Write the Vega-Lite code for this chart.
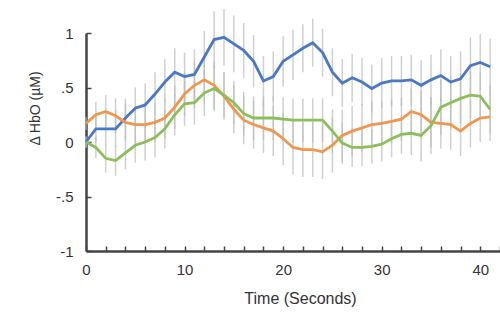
{
 "$schema": "https://vega.github.io/schema/vega-lite/v6.json",
 "width": 414, "height": 218,
 "autosize": {"type": "none"},
 "padding": {"left": 86, "top": 33, "right": 0, "bottom": 69},
 "background": "white",
 "config": {"view": {"stroke": null}, "font": "Liberation Sans"},
 "datasets": {
  "d": [
   {"t":0,"s":"A","v":0,"e":0.05},{"t":1,"s":"A","v":0.12,"e":0.12},{"t":2,"s":"A","v":0.12,"e":0.15},{"t":3,"s":"A","v":0.12,"e":0.17},{"t":4,"s":"A","v":0.22,"e":0.18},{"t":5,"s":"A","v":0.31,"e":0.19},{"t":6,"s":"A","v":0.34,"e":0.2},{"t":7,"s":"A","v":0.44,"e":0.2},{"t":8,"s":"A","v":0.55,"e":0.21},{"t":9,"s":"A","v":0.64,"e":0.22},{"t":10,"s":"A","v":0.6,"e":0.22},{"t":11,"s":"A","v":0.62,"e":0.23},{"t":12,"s":"A","v":0.78,"e":0.24},{"t":13,"s":"A","v":0.94,"e":0.26},{"t":14,"s":"A","v":0.96,"e":0.26},{"t":15,"s":"A","v":0.9,"e":0.26},{"t":16,"s":"A","v":0.84,"e":0.25},{"t":17,"s":"A","v":0.74,"e":0.24},{"t":18,"s":"A","v":0.56,"e":0.23},{"t":19,"s":"A","v":0.6,"e":0.23},{"t":20,"s":"A","v":0.74,"e":0.23},{"t":21,"s":"A","v":0.8,"e":0.23},{"t":22,"s":"A","v":0.86,"e":0.22},{"t":23,"s":"A","v":0.91,"e":0.22},{"t":24,"s":"A","v":0.82,"e":0.22},{"t":25,"s":"A","v":0.64,"e":0.22},{"t":26,"s":"A","v":0.54,"e":0.22},{"t":27,"s":"A","v":0.59,"e":0.22},{"t":28,"s":"A","v":0.55,"e":0.22},{"t":29,"s":"A","v":0.49,"e":0.22},{"t":30,"s":"A","v":0.54,"e":0.23},{"t":31,"s":"A","v":0.56,"e":0.23},{"t":32,"s":"A","v":0.56,"e":0.23},{"t":33,"s":"A","v":0.57,"e":0.23},{"t":34,"s":"A","v":0.52,"e":0.23},{"t":35,"s":"A","v":0.57,"e":0.23},{"t":36,"s":"A","v":0.61,"e":0.24},{"t":37,"s":"A","v":0.55,"e":0.24},{"t":38,"s":"A","v":0.58,"e":0.25},{"t":39,"s":"A","v":0.7,"e":0.26},{"t":40,"s":"A","v":0.73,"e":0.26},{"t":41,"s":"A","v":0.69,"e":0.26},
   {"t":0,"s":"B","v":0.17,"e":0.06},{"t":1,"s":"B","v":0.25,"e":0.12},{"t":2,"s":"B","v":0.28,"e":0.15},{"t":3,"s":"B","v":0.24,"e":0.16},{"t":4,"s":"B","v":0.18,"e":0.17},{"t":5,"s":"B","v":0.16,"e":0.17},{"t":6,"s":"B","v":0.16,"e":0.18},{"t":7,"s":"B","v":0.18,"e":0.18},{"t":8,"s":"B","v":0.22,"e":0.19},{"t":9,"s":"B","v":0.32,"e":0.2},{"t":10,"s":"B","v":0.44,"e":0.2},{"t":11,"s":"B","v":0.52,"e":0.21},{"t":12,"s":"B","v":0.57,"e":0.22},{"t":13,"s":"B","v":0.52,"e":0.22},{"t":14,"s":"B","v":0.42,"e":0.22},{"t":15,"s":"B","v":0.3,"e":0.22},{"t":16,"s":"B","v":0.2,"e":0.22},{"t":17,"s":"B","v":0.16,"e":0.22},{"t":18,"s":"B","v":0.13,"e":0.23},{"t":19,"s":"B","v":0.1,"e":0.23},{"t":20,"s":"B","v":0.03,"e":0.24},{"t":21,"s":"B","v":-0.05,"e":0.25},{"t":22,"s":"B","v":-0.07,"e":0.25},{"t":23,"s":"B","v":-0.07,"e":0.25},{"t":24,"s":"B","v":-0.09,"e":0.25},{"t":25,"s":"B","v":-0.03,"e":0.25},{"t":26,"s":"B","v":0.06,"e":0.24},{"t":27,"s":"B","v":0.1,"e":0.23},{"t":28,"s":"B","v":0.13,"e":0.22},{"t":29,"s":"B","v":0.16,"e":0.21},{"t":30,"s":"B","v":0.17,"e":0.2},{"t":31,"s":"B","v":0.19,"e":0.2},{"t":32,"s":"B","v":0.21,"e":0.2},{"t":33,"s":"B","v":0.28,"e":0.21},{"t":34,"s":"B","v":0.25,"e":0.22},{"t":35,"s":"B","v":0.18,"e":0.23},{"t":36,"s":"B","v":0.17,"e":0.23},{"t":37,"s":"B","v":0.16,"e":0.23},{"t":38,"s":"B","v":0.1,"e":0.23},{"t":39,"s":"B","v":0.17,"e":0.22},{"t":40,"s":"B","v":0.22,"e":0.22},{"t":41,"s":"B","v":0.23,"e":0.22},
   {"t":0,"s":"C","v":0,"e":0.05},{"t":1,"s":"C","v":-0.05,"e":0.1},{"t":2,"s":"C","v":-0.15,"e":0.13},{"t":3,"s":"C","v":-0.17,"e":0.14},{"t":4,"s":"C","v":-0.1,"e":0.15},{"t":5,"s":"C","v":-0.03,"e":0.16},{"t":6,"s":"C","v":0,"e":0.17},{"t":7,"s":"C","v":0.04,"e":0.18},{"t":8,"s":"C","v":0.12,"e":0.18},{"t":9,"s":"C","v":0.25,"e":0.19},{"t":10,"s":"C","v":0.35,"e":0.2},{"t":11,"s":"C","v":0.36,"e":0.2},{"t":12,"s":"C","v":0.45,"e":0.21},{"t":13,"s":"C","v":0.49,"e":0.21},{"t":14,"s":"C","v":0.43,"e":0.21},{"t":15,"s":"C","v":0.36,"e":0.2},{"t":16,"s":"C","v":0.26,"e":0.2},{"t":17,"s":"C","v":0.22,"e":0.2},{"t":18,"s":"C","v":0.22,"e":0.2},{"t":19,"s":"C","v":0.22,"e":0.2},{"t":20,"s":"C","v":0.21,"e":0.2},{"t":21,"s":"C","v":0.2,"e":0.2},{"t":22,"s":"C","v":0.2,"e":0.2},{"t":23,"s":"C","v":0.2,"e":0.2},{"t":24,"s":"C","v":0.2,"e":0.2},{"t":25,"s":"C","v":0.1,"e":0.2},{"t":26,"s":"C","v":-0.01,"e":0.19},{"t":27,"s":"C","v":-0.05,"e":0.18},{"t":28,"s":"C","v":-0.05,"e":0.17},{"t":29,"s":"C","v":-0.04,"e":0.16},{"t":30,"s":"C","v":-0.02,"e":0.16},{"t":31,"s":"C","v":0.03,"e":0.17},{"t":32,"s":"C","v":0.07,"e":0.18},{"t":33,"s":"C","v":0.08,"e":0.2},{"t":34,"s":"C","v":0.06,"e":0.24},{"t":35,"s":"C","v":0.15,"e":0.26},{"t":36,"s":"C","v":0.32,"e":0.25},{"t":37,"s":"C","v":0.36,"e":0.24},{"t":38,"s":"C","v":0.4,"e":0.23},{"t":39,"s":"C","v":0.43,"e":0.22},{"t":40,"s":"C","v":0.42,"e":0.22},{"t":41,"s":"C","v":0.3,"e":0.22}
  ]
 },
 "data": {"name": "d"},
 "encoding": {
  "x": {"field": "t", "type": "quantitative",
   "scale": {"domain": [0, 42], "nice": false, "zero": false},
   "axis": {"title": "Time (Seconds)", "values": [0,2,4,6,8,10,12,14,16,18,20,22,24,26,28,30,32,34,36,38,40,42],
    "labelExpr": "datum.value % 10 === 0 ? datum.label : ''",
    "grid": false, "tickSize": -5, "tickWidth": 1.5, "tickColor": "#444", "domainColor": "#444", "domainWidth": 2.5,
    "labelFontSize": 15, "labelColor": "#333", "labelPadding": 16, "labelFlush": false,
    "titleFontSize": 16, "titleFontWeight": "normal", "titleColor": "#333", "titlePadding": 13, "titleX": 214}},
  "y": {"field": "v", "type": "quantitative",
   "scale": {"domain": [-1, 1], "nice": false},
   "axis": {"title": "Δ HbO (µM)", "values": [-1, -0.5, 0, 0.5, 1],
    "labelExpr": "datum.value == 1 ? '1' : datum.value == 0.5 ? '.5' : datum.value == 0 ? '0' : datum.value == -0.5 ? '-.5' : '-1'",
    "grid": false, "tickSize": -5, "tickWidth": 1.5, "tickColor": "#444", "domainColor": "#444", "domainWidth": 2.5,
    "labelFontSize": 15, "labelColor": "#333", "labelPadding": 18,
    "titleFontSize": 14, "titleFontWeight": "normal", "titleColor": "#333", "titleX": -44, "titleY": 75, "titleAngle": -90, "titleBaseline": "bottom"}}
 },
 "layer": [
  {"mark": {"type": "errorbar", "color": "#bcbcbc", "thickness": 1.5, "opacity": 0.7},
   "encoding": {"yError": {"field": "e"}}},
  {"mark": {"type": "line", "strokeWidth": 2.8},
   "encoding": {"color": {"field": "s", "type": "nominal", "legend": null,
     "scale": {"domain": ["A", "B", "C"], "range": ["#4a78c6", "#f0964f", "#8cbe5a"]}}}}
 ]
}
